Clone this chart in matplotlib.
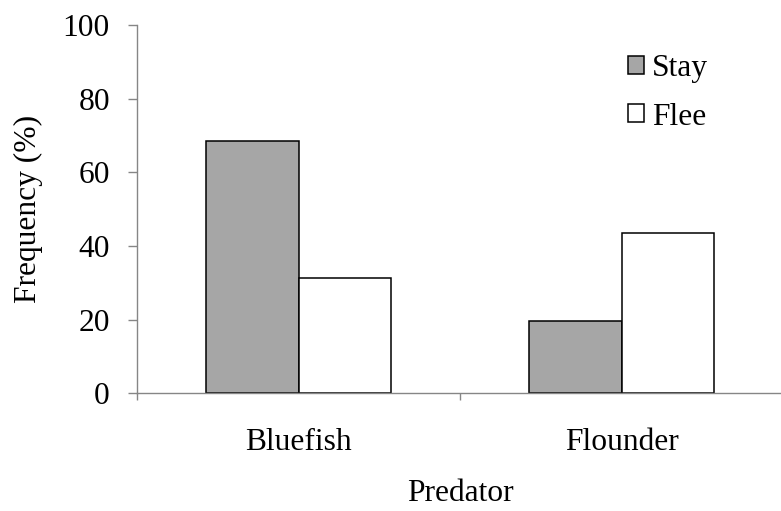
import matplotlib.pyplot as plt
import numpy as np

# Data
predators = ["Bluefish", "Flounder"]
stay = [68.6, 19.7]
flee = [31.4, 43.5]
yticks = [0, 20, 40, 60, 80, 100]

plt.rcParams['font.family'] = ['Liberation Serif', 'DejaVu Serif']
fs = 22.7

fig = plt.figure(figsize=(7.81, 5.11), dpi=100)
ax = fig.add_axes([137 / 781, 1 - 393.3 / 511, 646 / 781, 368.3 / 511])

x = np.arange(len(predators))
w = 0.285
ax.bar(x - w / 2, stay, width=w, color="#a6a6a6", edgecolor="black", linewidth=1.1, label="Stay")
ax.bar(x + w / 2, flee, width=w, color="white", edgecolor="black", linewidth=1.1, label="Flee")

ax.set_xlim(-0.5, 1.5)
ax.set_ylim(0, 100)
ax.set_yticks(yticks)
ax.set_xticks(x)
ax.set_xticklabels(predators)
ax.set_xticks([-0.5, 0.5, 1.5], minor=True)

# Axis styling (grey axis lines, outward ticks)
for side in ["top", "right"]:
    ax.spines[side].set_visible(False)
for side in ["left", "bottom"]:
    ax.spines[side].set_color("#868686")
    ax.spines[side].set_linewidth(1.0)
ax.tick_params(axis="y", direction="out", length=6.5, width=1.0, color="#868686", pad=13, labelsize=fs)
ax.tick_params(axis="x", which="major", length=0, pad=25, labelsize=fs)
ax.tick_params(axis="x", which="minor", direction="out", length=5, width=1.0, color="#868686")

ax.set_ylabel("Frequency (%)", fontsize=fs, labelpad=14)
ax.set_xlabel("Predator", fontsize=fs, labelpad=16)

ax.legend(loc="upper left", bbox_to_anchor=(628 / 781, 1 - 54 / 511), bbox_transform=fig.transFigure,
          frameon=False, fontsize=fs, handlelength=0.5, handleheight=0.5, handletextpad=0.25,
          labelspacing=0.62, borderpad=0, borderaxespad=0)

fig.savefig("out.png", dpi=100)
